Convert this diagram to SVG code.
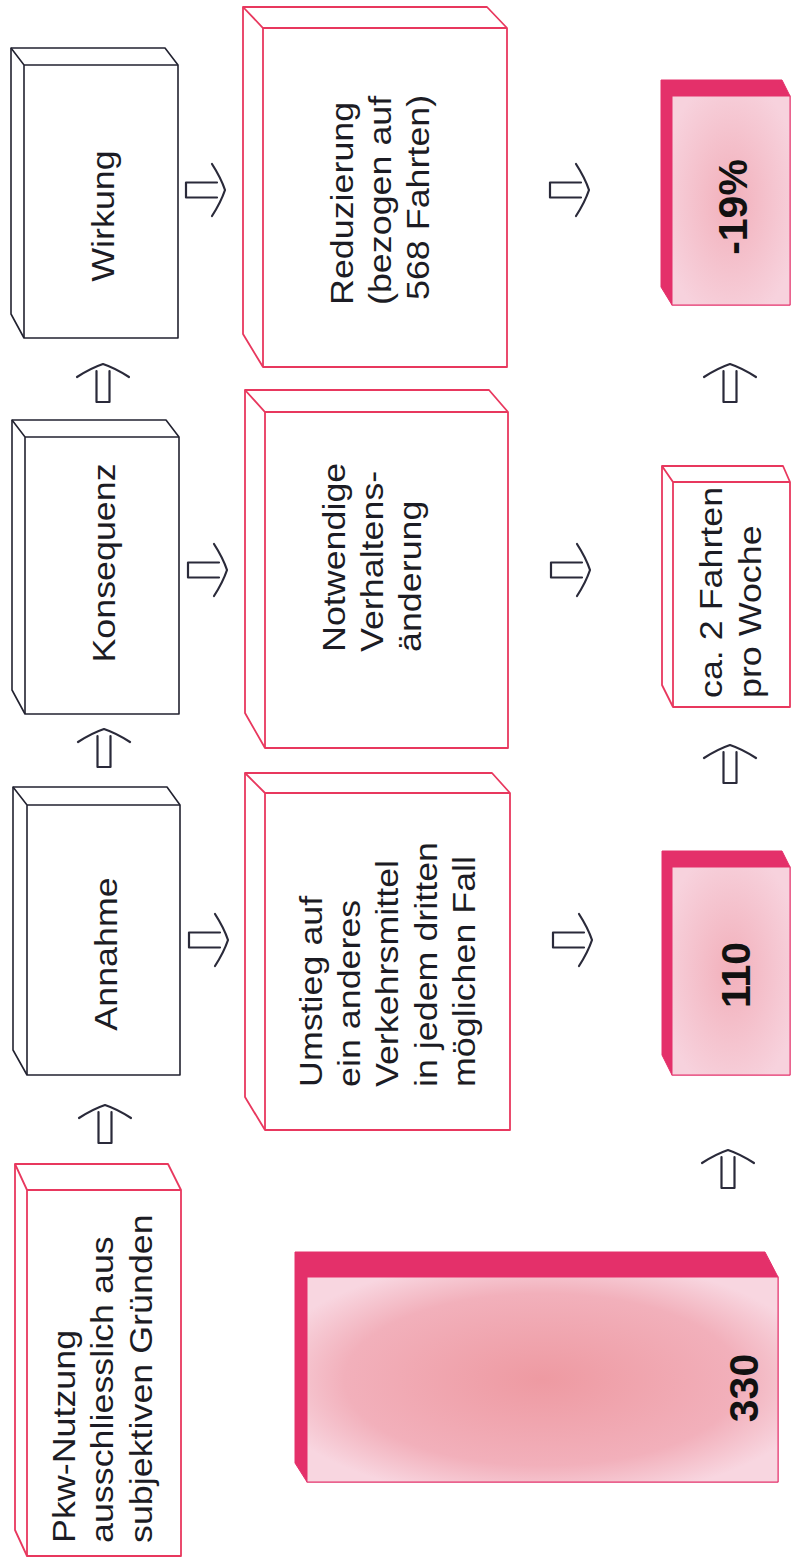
<svg xmlns="http://www.w3.org/2000/svg" width="791" height="1564" viewBox="0 0 791 1564">
<style>
.bk{fill:#fff;stroke:#222230;stroke-width:1.6;stroke-linejoin:round}
.bkl{fill:none;stroke:#222230;stroke-width:1.6}
.rd{fill:#fff;stroke:#e8385e;stroke-width:1.8;stroke-linejoin:round}
.rdl{fill:none;stroke:#e8385e;stroke-width:1.8}
.dk{fill:#e4306a;stroke:#e4306a;stroke-width:1}
.fr{fill:url(#pk);stroke:#e4306a;stroke-width:1}
.fr2{fill:url(#pk2);stroke:#e4306a;stroke-width:1}
.t{font-family:"Liberation Sans",Arial,sans-serif;font-size:32px;fill:#1c1c24}
.b{font-family:"Liberation Sans",Arial,sans-serif;font-size:41px;font-weight:bold;fill:#111}
.ar{fill:none;stroke:#2a2a3a;stroke-width:2.2;stroke-linecap:round;stroke-linejoin:round}
</style>
<defs>
<radialGradient id="pk" cx="0.5" cy="0.5" r="0.6">
<stop offset="0" stop-color="#f2b0bb"/>
<stop offset="1" stop-color="#f7d2dd"/>
</radialGradient>
<radialGradient id="pk2" cx="0.5" cy="0.5" r="0.6">
<stop offset="0" stop-color="#ee9aa2"/>
<stop offset="0.7" stop-color="#f2b0bb"/>
<stop offset="1" stop-color="#f8d6e0"/>
</radialGradient>
<g id="arR"><path d="M-8,-7.5 H-39 V7.5 H-8 M-13,-26 Q-4,-12 0,0 Q-4,12 -13,26"/></g>
<g id="arU"><path d="M-6.5,7 V38 H6.5 V7 M-26,13 Q-12,4 0,0 Q12,4 26,13"/></g>
</defs>

<g id="wirkung">
<path class="bk" d="M11,48 L165,48 L178,65 L178,338 L24,338 L11,314 Z"/>
<path class="bkl" d="M11,48 L24,65 L178,65 M24,65 L24,338"/>
<text class="t" transform="translate(114,216) rotate(-90) scale(1.12,1)" text-anchor="middle">Wirkung</text>
</g>
<g id="konsequenz">
<path class="bk" d="M12,420 L166,420 L179,437 L179,714 L25,714 L12,690 Z"/>
<path class="bkl" d="M12,420 L25,437 L179,437 M25,437 L25,714"/>
<text class="t" transform="translate(115,563) rotate(-90) scale(1.12,1)" text-anchor="middle">Konsequenz</text>
</g>
<g id="annahme">
<path class="bk" d="M13,787 L167,787 L180,805 L180,1075 L27,1075 L13,1050 Z"/>
<path class="bkl" d="M13,787 L27,805 L180,805 M27,805 L27,1075"/>
<text class="t" transform="translate(117,954) rotate(-90) scale(1.12,1)" text-anchor="middle">Annahme</text>
</g>
<g id="pkw">
<path class="rd" d="M15,1164 L168,1164 L181,1190 L181,1556 L27,1556 L15,1530 Z"/>
<path class="rdl" d="M15,1164 L27,1190 L181,1190 M27,1190 L27,1556"/>
<text class="t" transform="translate(75,1543) rotate(-90) scale(1.12,1)">Pkw-Nutzung</text>
<text class="t" transform="translate(113,1543) rotate(-90) scale(1.12,1)">ausschliesslich aus</text>
<text class="t" transform="translate(152,1543) rotate(-90) scale(1.12,1)">subjektiven Gründen</text>
</g>

<g id="reduzierung">
<path class="rd" d="M243,7 L487,7 L507,28 L507,367 L263,367 L243,334 Z"/>
<path class="rdl" d="M243,7 L263,28 L507,28 M263,28 L263,367"/>
<text class="t" transform="translate(353,305) rotate(-90) scale(1.12,1)">Reduzierung</text>
<text class="t" transform="translate(391,305) rotate(-90) scale(1.12,1)">(bezogen auf</text>
<text class="t" transform="translate(429,300) rotate(-90) scale(1.12,1)">568 Fahrten)</text>
</g>
<g id="notwendige">
<path class="rd" d="M245,390 L489,390 L508,412 L508,748 L265,748 L245,713 Z"/>
<path class="rdl" d="M245,390 L265,412 L508,412 M265,412 L265,748"/>
<text class="t" transform="translate(345,652) rotate(-90) scale(1.12,1)">Notwendige</text>
<text class="t" transform="translate(383,652) rotate(-90) scale(1.12,1)">Verhaltens-</text>
<text class="t" transform="translate(421,652) rotate(-90) scale(1.12,1)">änderung</text>
</g>
<g id="umstieg">
<path class="rd" d="M245,773 L492,773 L510,793 L510,1130 L265,1130 L245,1097 Z"/>
<path class="rdl" d="M245,773 L265,793 L510,793 M265,793 L265,1130"/>
<text class="t" transform="translate(322,1087) rotate(-90) scale(1.12,1)">Umstieg auf</text>
<text class="t" transform="translate(360,1087) rotate(-90) scale(1.12,1)">ein anderes</text>
<text class="t" transform="translate(398,1087) rotate(-90) scale(1.12,1)">Verkehrsmittel</text>
<text class="t" transform="translate(437,1087) rotate(-90) scale(1.12,1)">in jedem dritten</text>
<text class="t" transform="translate(475,1087) rotate(-90) scale(1.12,1)">möglichen Fall</text>
</g>

<g id="minus19">
<path class="dk" d="M661,80 L782,80 L790,96 L790,305 L672,305 L661,287 Z"/>
<rect class="fr" x="672" y="96" width="118" height="209"/>
<text class="b" transform="translate(747,207) rotate(-90)" text-anchor="middle">-19%</text>
</g>
<g id="fahrten">
<path class="rd" d="M662,466 L783,466 L790,482 L790,707 L673,707 L662,685 Z"/>
<path class="rdl" d="M662,466 L673,482 L790,482 M673,482 L673,707"/>
<text class="t" transform="translate(722,698) rotate(-90) scale(1.12,1)">ca. 2 Fahrten</text>
<text class="t" transform="translate(761,698) rotate(-90) scale(1.12,1)">pro Woche</text>
</g>
<g id="n110">
<path class="dk" d="M662,851 L782,851 L790,867 L790,1075 L672,1075 L662,1055 Z"/>
<rect class="fr" x="672" y="867" width="118" height="208"/>
<text class="b" transform="translate(750,975) rotate(-90)" text-anchor="middle">110</text>
</g>
<g id="n330">
<path class="dk" d="M295,1252 L765,1252 L778,1277 L778,1482 L307,1482 L295,1463 Z"/>
<rect class="fr2" x="307" y="1277" width="471" height="205"/>
<text class="b" transform="translate(758,1388) rotate(-90)" text-anchor="middle">330</text>
</g>

<g id="connectors" class="ar">
<use href="#arU" x="103" y="364"/>
<use href="#arU" x="104" y="729"/>
<use href="#arU" x="105" y="1105"/>
<use href="#arR" x="225" y="190"/>
<use href="#arR" x="227" y="570"/>
<use href="#arR" x="228" y="940"/>
<use href="#arR" x="589" y="190"/>
<use href="#arR" x="590" y="570"/>
<use href="#arR" x="592" y="940"/>
<use href="#arU" x="730" y="364"/>
<use href="#arU" x="730" y="745"/>
<use href="#arU" x="728" y="1150"/>
</g>
</svg>
